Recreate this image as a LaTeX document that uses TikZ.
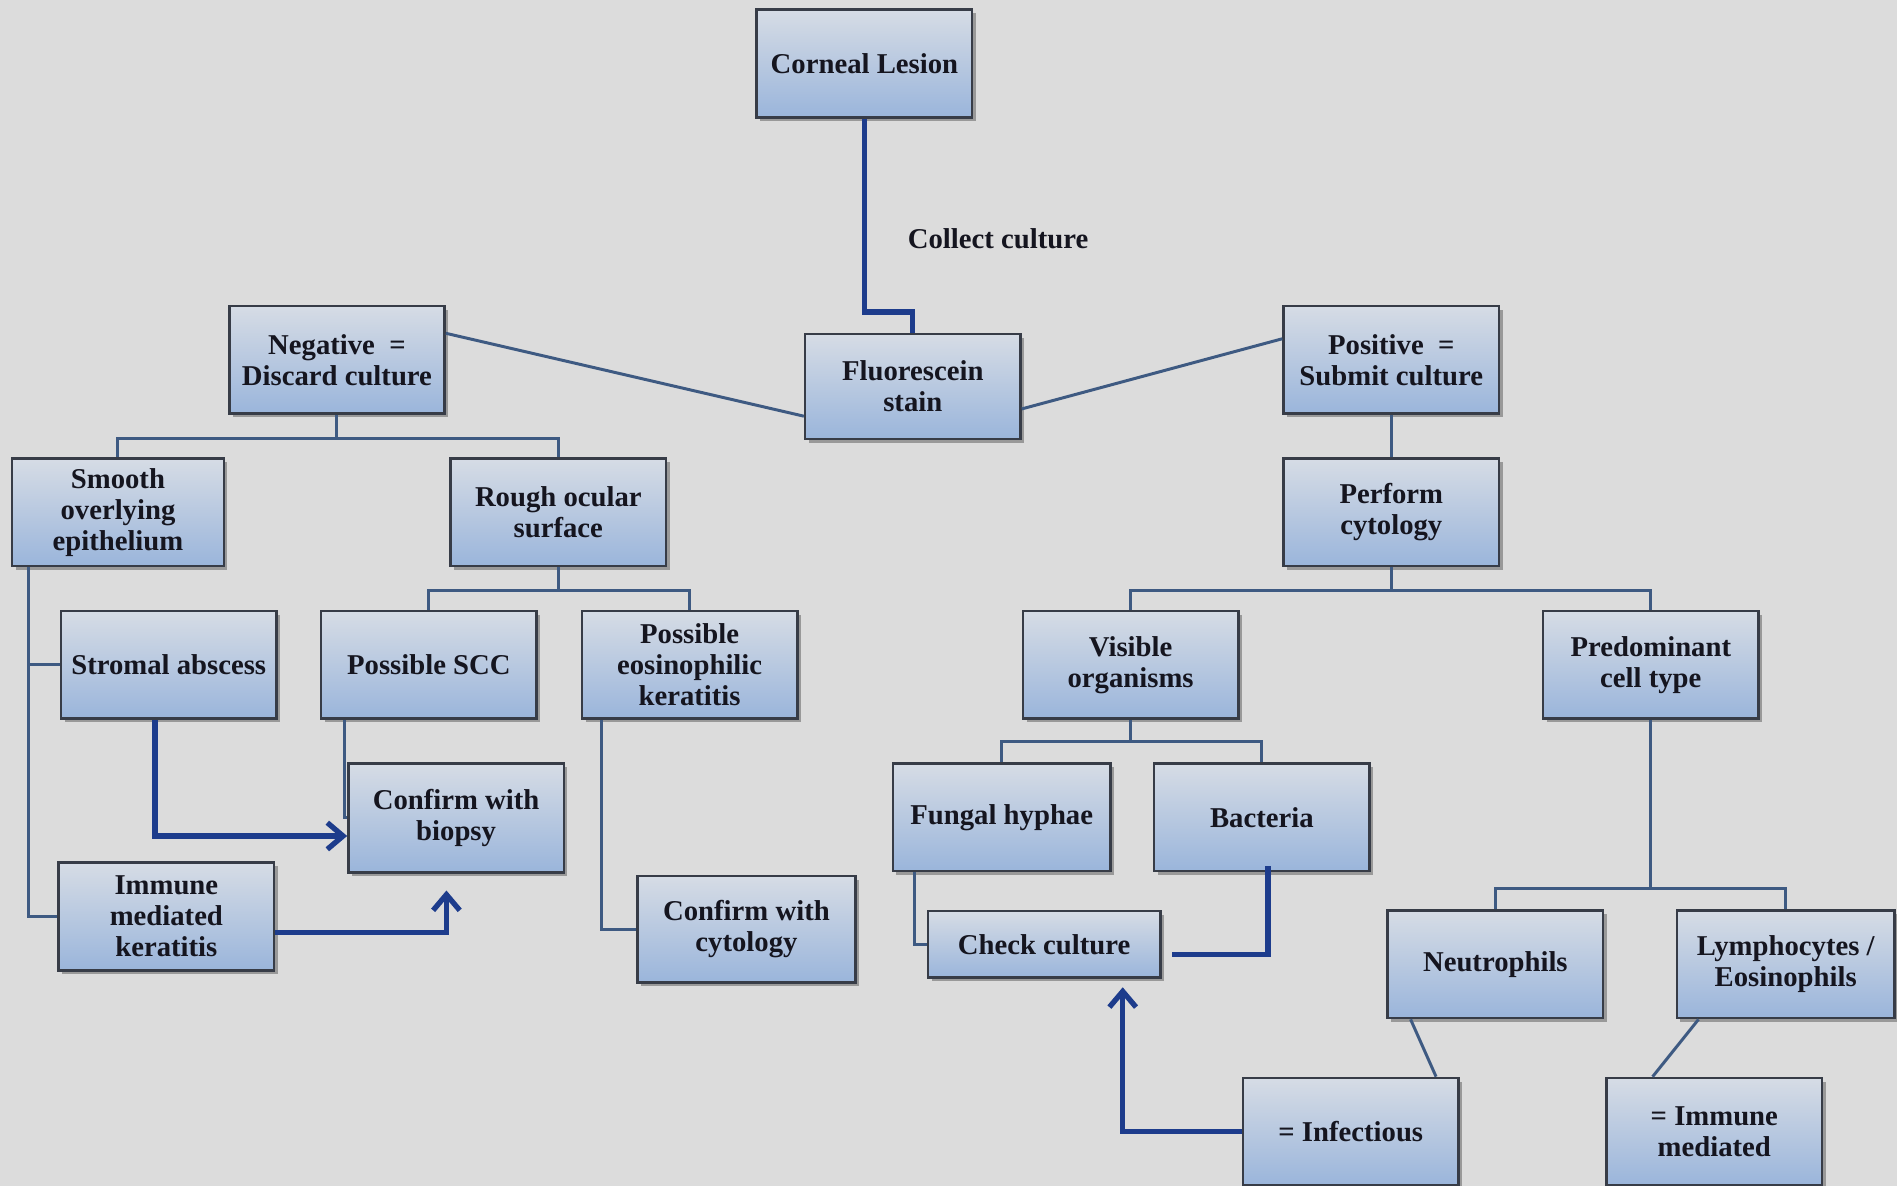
\documentclass[tikz,border=0pt]{standalone}
\usepackage{fontspec}
\setmainfont{Liberation Serif}
\usepackage{tikz}
\usetikzlibrary{arrows.meta,shadows}
\definecolor{cbg}{HTML}{DCDCDC}
\definecolor{cedge}{HTML}{373C47}
\definecolor{ctop}{HTML}{D6DCE5}
\definecolor{cbot}{HTML}{9AB5DB}
\definecolor{cline}{HTML}{3E5A82}
\definecolor{carrow}{HTML}{1D3C8C}
\definecolor{ctext}{HTML}{15151F}

\begin{document}
\begin{tikzpicture}[x=0.2mm,y=-0.2mm,
  font=\fontsize{13.5}{14.5}\selectfont\bfseries,
  box/.style={draw=cedge,line width=1.2pt,top color=ctop,bottom color=cbot,
    align=center,text=ctext,inner sep=1pt,minimum width=35.6mm,minimum height=17.8mm,
    drop shadow={shadow xshift=0.6mm,shadow yshift=-0.6mm,opacity=0.3,fill=black}},
  link/.style={draw=cline,line width=1.4pt},
  thk/.style={draw=carrow,line width=2.5pt},
  arr/.style={thk,-{Straight Barb[length=2.6mm,width=4.4mm,line width=2.5pt]}}]
  \useasboundingbox[fill=cbg] (0,0) rectangle (1568,980);
  % top of the tree
  \node[box] (corneal) at (714.5,52.5) {Corneal Lesion};
  \node[box,minimum height=17.4mm] (fluor) at (754.5,319.5) {Fluorescein\\stain};
  \node[box] (neg) at (278.5,297.5) {Negative \ =\\Discard culture};
  \node[box] (pos) at (1150,297.5) {Positive \ =\\Submit culture};
  \node[text=ctext] (collect) at (825,197) {Collect culture};
  % negative side
  \node[box,minimum width=35mm] (smooth) at (97.5,423.5) {Smooth\\overlying\\epithelium};
  \node[box] (rough) at (461.5,423.5) {Rough ocular\\surface};
  \node[box] (stromal) at (139.5,549.5) {Stromal abscess};
  \node[box] (scc) at (354.5,549.5) {Possible SCC};
  \node[box] (eosin) at (570,549.5) {Possible\\eosinophilic\\keratitis};
  \node[box,minimum height=18mm] (biopsy) at (377,676) {Confirm with\\biopsy};
  \node[box] (immune) at (137.5,757.5) {Immune\\mediated\\keratitis};
  \node[box,minimum width=36mm,minimum height=17.6mm] (cytol) at (617,768) {Confirm with\\cytology};
  % positive side
  \node[box] (perform) at (1150,423.5) {Perform\\cytology};
  \node[box] (visible) at (934.5,549.5) {Visible\\organisms};
  \node[box] (predom) at (1364.5,549.5) {Predominant\\cell type};
  \node[box,minimum width=36mm] (fungal) at (828,675.5) {Fungal hyphae};
  \node[box] (bacteria) at (1043,675.5) {Bacteria};
  \node[box,minimum width=38.4mm,minimum height=11mm] (check) at (863,780.5) {Check culture};
  \node[box] (neutro) at (1236,797) {Neutrophils};
  \node[box,minimum width=36mm] (lympho) at (1476,797) {Lymphocytes /\\Eosinophils};
  \node[box] (infect) at (1116.5,935.5) {= Infectious};
  \node[box] (immmed) at (1417,935.5) {= Immune\\mediated};
  % connectors
  \draw[thk] (corneal.south) -- (corneal.south |- 0,258) -- (fluor.north |- 0,258) -- (fluor.north);
  \draw[link] ([yshift=4.4mm]neg.east) -- ([yshift=-4.9mm]fluor.west);
  \draw[link] ([yshift=-3.7mm]fluor.east) -- ([yshift=3.5mm]pos.west);
  \draw[link] (neg.south) -- ++(0,19) -| (smooth.north);
  \draw[link] (neg.south) -- ++(0,19) -| (rough.north);
  \coordinate (sv) at ([xshift=3mm]smooth.south west);
  \draw[link] (sv) |- (immune.west);
  \draw[link] (sv |- stromal.west) -- (stromal.west);
  \draw[link] (rough.south) -- ++(0,19) -| (scc.north);
  \draw[link] (rough.south) -- ++(0,19) -| (eosin.north);
  \draw[link] ([xshift=4mm]scc.south west) |- (biopsy.west);
  \draw[arr] ([xshift=-2.3mm]stromal.south) |- ([yshift=-3mm]biopsy.west);
  \draw[arr] ([yshift=-2.7mm]immune.east) -| ([xshift=-1.6mm,yshift=-2.8mm]biopsy.south);
  \draw[link] ([xshift=3.4mm]eosin.south west) |- (cytol.west);
  \draw[link] (pos) -- (perform);
  \draw[link] (perform.south) -- ++(0,19) -| (visible.north);
  \draw[link] (perform.south) -- ++(0,19) -| (predom.north);
  \draw[link] (visible.south) -- ++(0,18) -| (fungal.north);
  \draw[link] (visible.south) -- ++(0,18) -| (bacteria.north);
  \draw[link] ([xshift=3.8mm]fungal.south west) |- (check.west);
  \draw[thk] ([xshift=1mm,yshift=1mm]bacteria.south) |- ([xshift=1.8mm,yshift=-1.7mm]check.east);
  \draw[arr] (infect.west) -| ([xshift=13mm,yshift=-1.4mm]check.south);
  \draw[link] (predom.south) -- ++(0,139) -| (neutro.north);
  \draw[link] (predom.south) -- ++(0,139) -| (lympho.north);
  \draw[link] ([xshift=4mm]neutro.south west) -- ([xshift=14.1mm]infect.north);
  \draw[link] ([xshift=3.8mm]lympho.south west) -- ([xshift=-10.2mm]immmed.north);
\end{tikzpicture}
\end{document}
